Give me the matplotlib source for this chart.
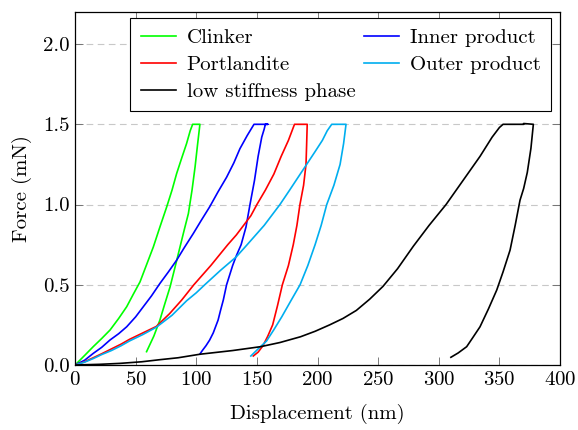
import matplotlib
matplotlib.use('Agg')
import matplotlib.pyplot as plt

plt.rcParams['font.family'] = 'serif'
plt.rcParams['font.serif'] = ['cmr10']
plt.rcParams['mathtext.fontset'] = 'cm'
plt.rcParams['axes.formatter.use_mathtext'] = True

# load-displacement curves, loading -> hold -> unloading
clinker_disp = [0, 1.4, 8, 15, 22, 28.9, 36, 42.6, 48, 53.6, 59, 64.6, 70, 75.6, 80, 83.8, 88, 92, 95, 97,
                103, 101, 99, 96.5, 93.5, 90, 86.6, 82.5, 78.4, 74, 70, 65, 59]
clinker_force = [0, 0.01, 0.06, 0.114, 0.165, 0.218, 0.29, 0.363, 0.44, 0.518, 0.625, 0.736, 0.86, 0.985,
                 1.09, 1.193, 1.29, 1.38, 1.46, 1.5,
                 1.5, 1.37, 1.234, 1.09, 0.944, 0.84, 0.736, 0.61, 0.487, 0.38, 0.28, 0.18, 0.083]

inner_disp = [0, 8, 15, 22, 28.9, 36, 42.6, 50, 56.3, 63, 70, 77, 83.8, 90, 97.6, 104, 111, 118, 125,
              131, 136, 142, 146, 147.6,
              159, 157, 156, 154, 151, 148, 144.3, 141, 137, 133, 130, 127.5, 125, 122.3, 120, 118, 114,
              111, 108, 105, 103]
inner_force = [0, 0.03, 0.072, 0.11, 0.156, 0.195, 0.238, 0.3, 0.363, 0.43, 0.508, 0.58, 0.653, 0.73,
               0.82, 0.9, 0.985, 1.08, 1.17, 1.26, 1.348, 1.43, 1.48, 1.5,
               1.5, 1.5, 1.47, 1.42, 1.3, 1.15, 1.0, 0.86, 0.75, 0.68, 0.62, 0.56, 0.5, 0.405, 0.34,
               0.28, 0.2, 0.155, 0.12, 0.09, 0.068]

port_disp = [0, 8, 15, 22, 30, 38, 45, 56, 67, 78, 88, 98, 105, 112, 119, 126, 133, 139, 145, 150,
             157, 164, 170, 176, 179, 181,
             191.5, 191, 190.5, 188.5, 185.5, 183, 180, 176, 171, 167, 163, 159, 155, 151, 147]
port_force = [0, 0.02, 0.045, 0.07, 0.1, 0.13, 0.16, 0.2, 0.24, 0.32, 0.405, 0.5, 0.56, 0.62, 0.685,
              0.75, 0.81, 0.87, 0.93, 1.0, 1.09, 1.19, 1.3, 1.4, 1.46, 1.5,
              1.5, 1.37, 1.25, 1.12, 1.0, 0.87, 0.75, 0.62, 0.5, 0.37, 0.25, 0.18, 0.12, 0.08, 0.056]

outer_disp = [0, 8, 15, 22, 30, 38, 45, 56, 67, 80, 92, 100, 107, 120, 133, 142, 156, 169, 177, 184,
              191, 198, 204, 208, 211.7,
              223.5, 221.5, 218.6, 213.5, 207.6, 203, 198, 192, 185.6, 178, 170.5, 164, 158, 151, 145]
outer_force = [0, 0.018, 0.04, 0.065, 0.09, 0.12, 0.15, 0.19, 0.235, 0.31, 0.40, 0.45, 0.5, 0.59,
               0.674, 0.75, 0.87, 1.0, 1.09, 1.17, 1.25, 1.33, 1.4, 1.46, 1.5,
               1.5, 1.38, 1.25, 1.12, 1.0, 0.87, 0.75, 0.62, 0.5, 0.4, 0.3, 0.22, 0.15, 0.1, 0.056]

low_disp = [0, 20, 37, 55, 70, 85, 103, 130, 153, 169, 186, 198, 210, 221, 232, 243, 254, 266,
            279, 292, 306, 320, 334, 344, 350, 353,
            370, 370, 378, 376, 373, 370, 367, 363, 358.8, 353, 347.8, 341, 334, 328, 323, 316, 310]
low_force = [0, 0.004, 0.01, 0.02, 0.033, 0.045, 0.067, 0.09, 0.114, 0.14, 0.176, 0.21, 0.25,
             0.29, 0.34, 0.41, 0.49, 0.6, 0.74, 0.87, 1.0, 1.15, 1.3, 1.42, 1.48, 1.5,
             1.5, 1.505, 1.5, 1.35, 1.2, 1.1, 1.027, 0.87, 0.716, 0.58, 0.467, 0.35, 0.238, 0.17,
             0.114, 0.075, 0.048]

fig = plt.figure(figsize=(5.78, 4.30), dpi=100)
ax = fig.add_axes([0.1298, 0.1512, 0.8391, 0.8209])

lw = 1.2
kw = dict(lw=lw, solid_joinstyle='round')
h_cl, = ax.plot(clinker_disp, clinker_force, color='#00ff00', label='Clinker', **kw)
h_in, = ax.plot(inner_disp, inner_force, color='#0000ff', label='Inner product', **kw)
h_po, = ax.plot(port_disp, port_force, color='#ff0000', label='Portlandite', **kw)
h_ou, = ax.plot(outer_disp, outer_force, color='#00aeef', label='Outer product', **kw)
h_lo, = ax.plot(low_disp, low_force, color='black', label='low stiffness phase', **kw)

ax.set_xlim(0, 400)
ax.set_ylim(0, 2.2)
ax.set_xticks(range(0, 401, 50))
ax.set_yticks([0, 0.5, 1.0, 1.5, 2.0])
ax.set_yticklabels(['0.0', '0.5', '1.0', '1.5', '2.0'])
ax.yaxis.grid(True, color='#c8c8c8', linestyle=(0, (6, 4)), linewidth=0.8)
ax.set_axisbelow(True)
ax.tick_params(direction='in', top=True, right=True, length=6, width=0.6,
               color='#666666', labelsize=15, pad=4)
for s in ax.spines.values():
    s.set_linewidth(0.9)

ax.set_xlabel('Displacement (nm)', fontsize=15, labelpad=11)
ax.set_ylabel('Force (mN)', fontsize=15, labelpad=8)

leg = ax.legend([h_cl, h_po, h_lo, h_in, h_ou],
                ['Clinker', 'Portlandite', 'low stiffness phase', 'Inner product', 'Outer product'],
                ncol=2, loc='upper right', bbox_to_anchor=(0.981, 0.983), borderaxespad=0,
                fontsize=15, fancybox=False, framealpha=1, edgecolor='black',
                handlelength=1.7, handletextpad=0.5, columnspacing=0.4,
                labelspacing=0.4, borderpad=0.5)
leg.get_frame().set_linewidth(0.8)

fig.savefig('out.png', dpi=100)
